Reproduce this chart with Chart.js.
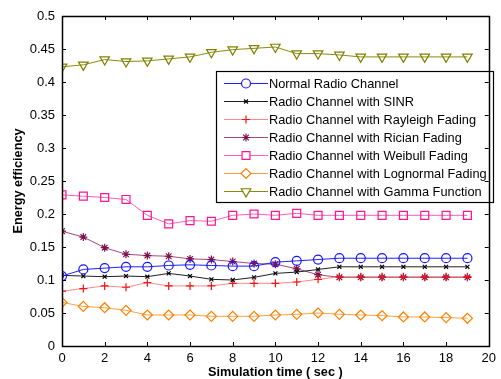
<!DOCTYPE html>
<html>
<head>
<meta charset="utf-8">
<script src="https://cdn.jsdelivr.net/npm/chart.js@4/dist/chart.umd.min.js"></script>
<style>
  body { margin: 0; background: #fff; }
  #wrap { width: 501px; height: 379px; }
</style>
</head>
<body>
<div id="wrap"><canvas id="chart" width="501" height="379"></canvas></div>
<script>
// time axis (sec)
const times = [0, 1, 2, 3, 4, 5, 6, 7, 8, 9, 10, 11, 12, 13, 14, 15, 16, 17, 18, 19];
const xTicks = [0, 2, 4, 6, 8, 10, 12, 14, 16, 18, 20];
const yTicks = [0, 0.05, 0.1, 0.15, 0.2, 0.25, 0.3, 0.35, 0.4, 0.45, 0.5];
const yTickLabels = ['0', '0.05', '0.1', '0.15', '0.2', '0.25', '0.3', '0.35', '0.4', '0.45', '0.5'];

const seriesNames = [
  'Normal Radio Channel',
  'Radio Channel with SINR',
  'Radio Channel with Rayleigh Fading',
  'Radio Channel with Rician Fading',
  'Radio Channel with Weibull Fading',
  'Radio Channel with Lognormal Fading',
  'Radio Channel with Gamma Function'
];

const normal    = [0.106, 0.116, 0.118, 0.120, 0.120, 0.122, 0.123, 0.122, 0.121, 0.121, 0.127, 0.129, 0.131, 0.133, 0.133, 0.133, 0.133, 0.133, 0.133, 0.133];
const sinr      = [0.107, 0.106, 0.105, 0.106, 0.105, 0.110, 0.106, 0.101, 0.100, 0.104, 0.110, 0.112, 0.116, 0.120, 0.120, 0.120, 0.120, 0.120, 0.120, 0.120];
const rayleigh  = [0.083, 0.087, 0.091, 0.089, 0.096, 0.091, 0.091, 0.091, 0.095, 0.095, 0.095, 0.097, 0.101, 0.105, 0.105, 0.105, 0.105, 0.105, 0.105, 0.105];
const rician    = [0.174, 0.165, 0.149, 0.139, 0.137, 0.136, 0.132, 0.131, 0.128, 0.125, 0.124, 0.117, 0.108, 0.104, 0.104, 0.104, 0.104, 0.104, 0.104, 0.104];
const weibull   = [0.229, 0.227, 0.225, 0.222, 0.198, 0.185, 0.190, 0.189, 0.198, 0.200, 0.198, 0.201, 0.198, 0.198, 0.198, 0.198, 0.198, 0.198, 0.198, 0.198];
const lognormal = [0.066, 0.060, 0.058, 0.054, 0.047, 0.047, 0.047, 0.045, 0.045, 0.045, 0.047, 0.048, 0.050, 0.048, 0.047, 0.046, 0.044, 0.044, 0.043, 0.042];
const gamma     = [0.423, 0.426, 0.434, 0.431, 0.432, 0.435, 0.438, 0.445, 0.449, 0.451, 0.453, 0.443, 0.443, 0.441, 0.438, 0.438, 0.438, 0.438, 0.438, 0.438];

const seriesValues = [normal, sinr, rayleigh, rician, weibull, lognormal, gamma];

// look of each series: line colour, marker colour, marker shape, marker radius
const looks = [
  { line: '#2020ff', mark: '#1515ff', shape: 'circle', r: 4.5, rot: 0 },
  { line: '#202020', mark: '#000000', shape: 'crossRot', r: 2.8, rot: 0 },
  { line: '#ff8a8a', mark: '#ff1010', shape: 'cross', r: 4, rot: 0 },
  { line: '#a04a80', mark: '#80104a', shape: 'star', r: 4, rot: 0 },
  { line: '#ff60b0', mark: '#ff1493', shape: 'rect', r: 5.6, rot: 0 },
  { line: '#ffa040', mark: '#ff8000', shape: 'rectRot', r: 5, rot: 0 },
  { line: '#8a8a10', mark: '#808000', shape: 'triangle', r: 5.5, rot: 180 }
];

const datasets = seriesNames.map((name, i) => ({
  label: name,
  data: times.map((t, j) => ({ x: t, y: seriesValues[i][j] })),
  borderColor: looks[i].line,
  borderWidth: 1,
  pointStyle: looks[i].shape,
  pointRadius: looks[i].r,
  pointRotation: looks[i].rot,
  pointBorderColor: looks[i].mark,
  pointBorderWidth: 1.2,
  pointBackgroundColor: 'rgba(0,0,0,0)',
  tension: 0
}));

// inward ticks on all four sides plus the box, like the original plot
const framePlugin = {
  id: 'frame',
  afterDraw(chart) {
    const { ctx, chartArea: a, scales: { x, y } } = chart;
    ctx.save();
    ctx.strokeStyle = '#000';
    ctx.lineWidth = 1;
    ctx.beginPath();
    xTicks.forEach(v => {
      const px = Math.round(x.getPixelForValue(v)) + 0.5;
      ctx.moveTo(px, a.bottom); ctx.lineTo(px, a.bottom - 4);
      ctx.moveTo(px, a.top); ctx.lineTo(px, a.top + 4);
    });
    yTicks.forEach(v => {
      const py = Math.round(y.getPixelForValue(v)) + 0.5;
      ctx.moveTo(a.left, py); ctx.lineTo(a.left + 4, py);
      ctx.moveTo(a.right, py); ctx.lineTo(a.right - 4, py);
    });
    ctx.stroke();
    ctx.lineWidth = 1.5;
    ctx.strokeRect(Math.round(a.left) + 0.5, Math.round(a.top) + 0.5,
      Math.round(a.right - a.left), Math.round(a.bottom - a.top));
    ctx.restore();
  }
};

// legend box inside the plot area
const boxLegend = {
  id: 'boxLegend',
  afterDatasetsDraw(chart) {
    const ctx = chart.ctx;
    const left = 216.5, top = 71.5, right = 493.5, bottom = 202.5;
    ctx.save();
    ctx.fillStyle = '#fff';
    ctx.fillRect(left, top, right - left, bottom - top);
    ctx.strokeStyle = '#000';
    ctx.lineWidth = 1.2;
    ctx.strokeRect(left, top, right - left, bottom - top);
    ctx.font = '12.8px "Liberation Sans", Arial, sans-serif';
    ctx.textBaseline = 'middle';
    ctx.textAlign = 'left';
    seriesNames.forEach((name, i) => {
      const yy = 83.5 + i * 18;
      ctx.strokeStyle = looks[i].line;
      ctx.lineWidth = 1;
      ctx.beginPath();
      ctx.moveTo(224, yy); ctx.lineTo(268, yy);
      ctx.stroke();
      ctx.strokeStyle = looks[i].mark;
      ctx.fillStyle = '#fff';
      ctx.lineWidth = 1.2;
      Chart.helpers.drawPoint(ctx, {
        pointStyle: looks[i].shape,
        radius: looks[i].r,
        rotation: looks[i].rot,
        borderWidth: 1.2
      }, 246, yy);
      ctx.fillStyle = '#000';
      ctx.fillText(name, 269, yy + 0.5);
    });
    ctx.restore();
  }
};

const tickFont = { family: '"Liberation Sans", Arial, sans-serif', size: 13 };
const titleFont = { family: '"Liberation Sans", Arial, sans-serif', size: 12.7, weight: 'bold', lineHeight: 1 };

new Chart(document.getElementById('chart'), {
  type: 'line',
  data: { datasets },
  plugins: [boxLegend, framePlugin],
  options: {
    responsive: false,
    animation: false,
    layout: { padding: { top: 16, right: 4, left: 0, bottom: 0 } },
    plugins: { legend: { display: false }, tooltip: { enabled: false } },
    scales: {
      x: {
        type: 'linear',
        min: 0,
        max: 20,
        afterBuildTicks: s => { s.ticks = xTicks.map(v => ({ value: v })); },
        afterFit: s => { s.height = 33; },
        grid: { display: false, drawTicks: false },
        border: { display: false },
        ticks: { font: tickFont, color: '#000', padding: 5, maxRotation: 0, autoSkip: false },
        title: { display: true, text: 'Simulation time ( sec )', font: titleFont, color: '#000', padding: { top: 0, bottom: 0 } }
      },
      y: {
        type: 'linear',
        min: 0,
        max: 0.5,
        afterBuildTicks: s => { s.ticks = yTicks.map(v => ({ value: v })); },
        afterFit: s => { s.width = 62; },
        grid: { display: false, drawTicks: false },
        border: { display: false },
        ticks: {
          font: tickFont, color: '#000', padding: 7, autoSkip: false,
          callback: (v, i) => yTickLabels[i]
        },
        title: { display: true, text: 'Energy efficiency', font: titleFont, color: '#000', padding: { top: 12, bottom: 0 } }
      }
    }
  }
});
</script>
</body>
</html>
